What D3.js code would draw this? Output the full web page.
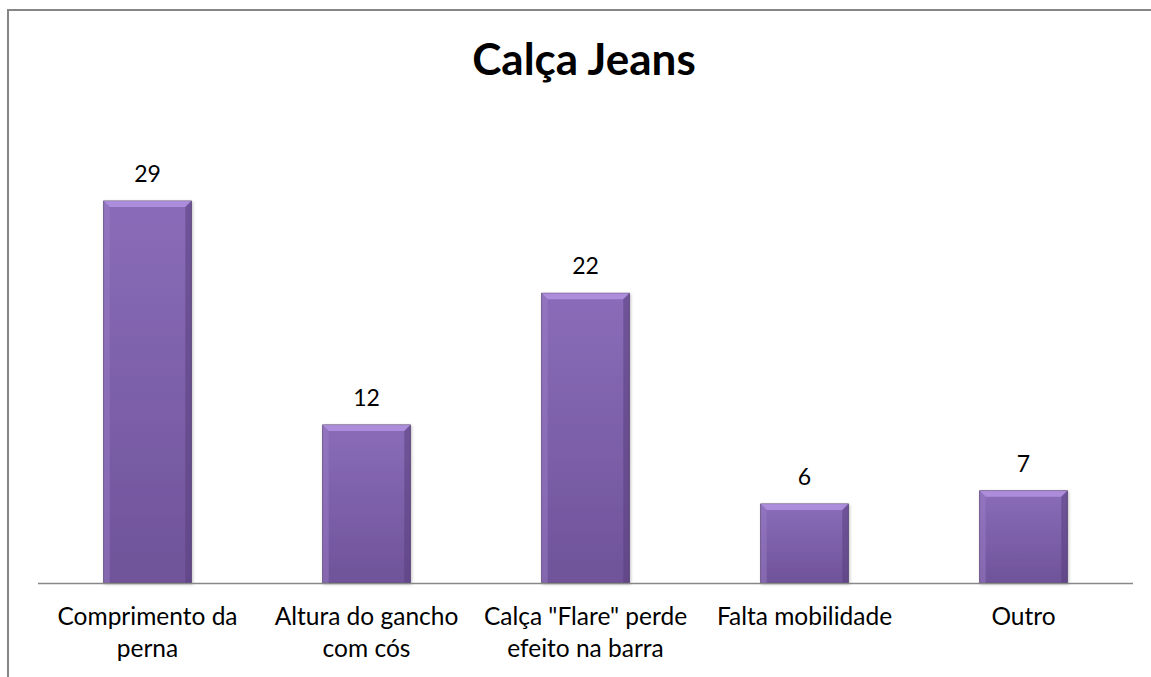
<!DOCTYPE html>
<html><head><meta charset="utf-8">
<script src="https://cdn.jsdelivr.net/npm/d3@7"></script>
<style>body{margin:0;background:#fff;}svg{display:block;}</style>
</head><body>
<script>
const categories = [["Comprimento da","perna"],["Altura do gancho","com cós"],["Calça \"Flare\" perde","efeito na barra"],["Falta mobilidade"],["Outro"]];
const values = [29,12,22,6,7];
const title = "Calça Jeans";

const W=1151,H=677;
const svg=d3.select("body").append("svg").attr("width",W).attr("height",H);
const font="Lato, 'Open Sans', sans-serif";

svg.append("rect").attr("x",8).attr("y",10).attr("width",W+20).attr("height",H+20)
  .attr("fill","none").attr("stroke","#868686").attr("stroke-width",2);

const x=d3.scaleBand().domain(d3.range(values.length)).range([38,1133]).paddingInner(0.6).paddingOuter(0.3);
const y=d3.scaleLinear().domain([0,29]).range([583,201]);

const defs=svg.append("defs");
const g=defs.append("linearGradient").attr("id","bg").attr("x1",0).attr("y1",0).attr("x2",0).attr("y2",1);
g.append("stop").attr("offset","0%").attr("stop-color","#8a6cb9");
g.append("stop").attr("offset","100%").attr("stop-color","#6f5399");
const f=defs.append("filter").attr("id","sh").attr("x","-20%").attr("y","-20%").attr("width","140%").attr("height","140%");
f.append("feDropShadow").attr("dx",1).attr("dy",1).attr("stdDeviation",1.5).attr("flood-color","#000").attr("flood-opacity",0.25);

const bars=svg.append("g").selectAll("g").data(values).join("g");
bars.append("rect").attr("x",(d,i)=>x(i)).attr("y",d=>y(d)).attr("width",x.bandwidth()).attr("height",d=>y(0)-y(d))
  .attr("fill","url(#bg)").attr("stroke","#4b3568").attr("stroke-width",0.8).attr("filter","url(#sh)");
const bv=6;
bars.append("path").attr("d",(d,i)=>{const x0=x(i),x1=x(i)+x.bandwidth(),y0=y(d);
  return `M${x0},${y0}L${x1},${y0}L${x1-bv},${y0+bv}L${x0+bv},${y0+bv}Z`;}).attr("fill","#b596e3").attr("opacity",0.8);
bars.append("path").attr("d",(d,i)=>{const x0=x(i),y0=y(d),y1=y(0);
  return `M${x0},${y0}L${x0+bv},${y0+bv}L${x0+bv},${y1}L${x0},${y1}Z`;}).attr("fill","#9a7cc6").attr("opacity",0.5);
bars.append("path").attr("d",(d,i)=>{const x1=x(i)+x.bandwidth(),y0=y(d),y1=y(0);
  return `M${x1},${y0}L${x1-bv},${y0+bv}L${x1-bv},${y1}L${x1},${y1}Z`;}).attr("fill","#553c7a").attr("opacity",0.5);

svg.append("line").attr("x1",38).attr("x2",1133).attr("y1",583.5).attr("y2",583.5).attr("stroke","#888").attr("stroke-width",1.5);

svg.append("g").selectAll("text").data(values).join("text")
  .attr("x",(d,i)=>x(i)+x.bandwidth()/2).attr("y",d=>y(d)-19)
  .attr("text-anchor","middle").attr("font-family",font).attr("font-size",23).attr("fill","#000").text(d=>d);

const cl=svg.append("g").selectAll("text").data(categories).join("text")
  .attr("text-anchor","middle").attr("font-family",font).attr("font-size",24.5).attr("fill","#000");
cl.each(function(lines,i){
  d3.select(this).selectAll("tspan").data(lines).join("tspan")
   .attr("x",x(i)+x.bandwidth()/2).attr("y",(l,j)=>625+j*32).text(l=>l);
});

svg.append("text").attr("x",584).attr("y",75).attr("text-anchor","middle").attr("font-family",font)
  .attr("font-weight","bold").attr("font-size",44).attr("fill","#000").text(title);
</script>
</body></html>
